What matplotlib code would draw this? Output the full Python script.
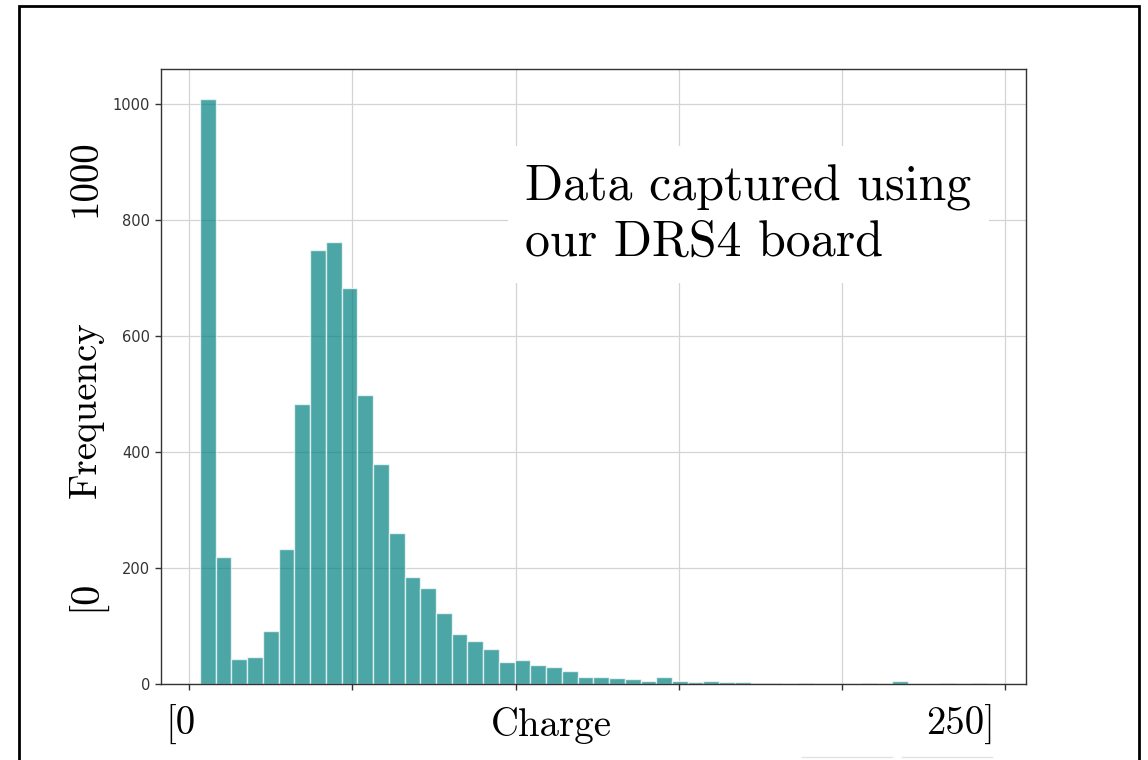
import numpy as np
import matplotlib
matplotlib.use("Agg")
import matplotlib.pyplot as plt
from matplotlib.patches import Rectangle
from matplotlib.lines import Line2D

# histogram of charge values, 50 equal bins
bin_start = 3.3
bin_width = 4.82
counts = [1009, 218, 42, 45, 90, 232, 482, 748, 762, 682,
          498, 379, 259, 184, 165, 121, 86, 73, 59, 37,
          40, 32, 28, 22, 11, 11, 9, 8, 5, 11,
          5, 2, 4, 2, 2, 1, 1, 0, 1, 0,
          0, 0, 1, 0, 5, 0, 0, 1, 0, 1]
x_ticks = [0, 50, 100, 150, 200, 250]
y_ticks = [0, 200, 400, 600, 800, 1000]

edges = bin_start + bin_width * np.arange(len(counts) + 1)

W, H = 1148, 760
fig = plt.figure(figsize=(W / 100, H / 100), dpi=100)
ax = fig.add_axes([160.7 / W, 1 - 683.5 / H, (1026 - 160.7) / W, (683.5 - 69.3) / H])

ax.hist(edges[:-1], bins=edges, weights=counts, color="teal", alpha=0.7,
        edgecolor="white", linewidth=1)

ax.set_axisbelow(True)
ax.grid(True, color="#d4d4d4", linewidth=0.9)
ax.set_xticks(x_ticks)
ax.set_xticklabels([""] * len(x_ticks))
ax.set_yticks(y_ticks)
ax.tick_params(axis="both", direction="out", length=4, width=1, colors="#333333",
               labelsize=10.5)
for s in ax.spines.values():
    s.set_color("#333333")
    s.set_linewidth(1)

serif = "cmr10"

# annotation box
fig.text(525 / W, 1 - 215 / H, "Data captured using\nour DRS4 board",
         family=serif, fontsize=36, ha="left", va="center", linespacing=1.25,
         bbox=dict(facecolor="white", edgecolor="none", boxstyle="square,pad=0.35"))

# hand-placed axis labels
fig.text(86 / W, 1 - 410 / H, "Frequency", family=serif, fontsize=28,
         rotation=90, ha="center", va="center")
fig.text(86 / W, 1 - 178 / H, "1000", family=serif, fontsize=28,
         rotation=90, ha="center", va="center")
fig.text(86 / W, 1 - 595 / H, "[0", family=serif, fontsize=29,
         rotation=90, ha="center", va="center")
fig.text(165 / W, 1 - 725 / H, "[0", family=serif, fontsize=28,
         ha="left", va="center")
fig.text(551 / W, 1 - 725 / H, "Charge", family=serif, fontsize=28,
         ha="center", va="center")
fig.text(995 / W, 1 - 725 / H, "250]", family=serif, fontsize=28,
         ha="right", va="center")

# slide frame
fig.patches.append(Rectangle((19 / W, -0.05), (1139 - 19) / W, 1.05 - 6 / H,
                             transform=fig.transFigure, fill=False,
                             edgecolor="black", linewidth=2))
# faint slide artefacts near the bottom edge
for x0, x1 in [(802, 892), (902, 992)]:
    fig.lines.append(Line2D([x0 / W, x1 / W], [1 - 757 / H, 1 - 757 / H],
                            transform=fig.transFigure, color="#e2e2e2", linewidth=1))

fig.savefig("out.png", dpi=100)
